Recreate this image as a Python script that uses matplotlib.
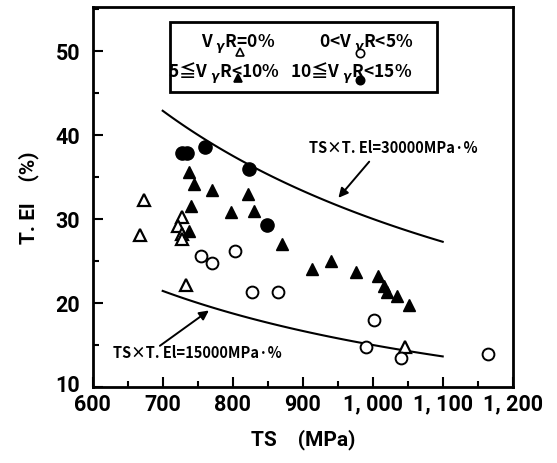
import numpy as np
import matplotlib
matplotlib.use('Agg')
import matplotlib.pyplot as plt
from matplotlib.patches import Rectangle
from matplotlib.transforms import ScaledTranslation
from matplotlib.ticker import MultipleLocator, FixedLocator, FixedFormatter

plt.rcParams['font.family'] = ['Roboto', 'DejaVu Sans']
plt.rcParams['font.weight'] = 'bold'
plt.rcParams['axes.labelweight'] = 'bold'
cjk = ['Noto Sans CJK JP', 'DejaVu Sans']

# V_gammaR = 0 %  (open triangles)
ts_0 = [674, 667, 727, 722, 727, 727, 733, 1046]
el_0 = [32.2, 28.1, 30.2, 29.2, 28.2, 27.6, 22.1, 14.7]

# 0 < V_gammaR < 5 %  (open circles)
ts_5 = [755, 770, 804, 827, 865, 1002, 990, 1040, 1165]
el_5 = [25.6, 24.8, 26.2, 21.3, 21.3, 18.0, 14.7, 13.4, 13.9]

# 5 <= V_gammaR < 10 %  (filled triangles)
ts_10 = [738, 745, 771, 822, 741, 797, 830, 738, 870, 913, 940, 976, 1008, 1016,
         1021, 1034, 1052]
el_10 = [35.6, 34.2, 33.4, 32.9, 31.5, 30.8, 30.9, 28.5, 27.0, 24.0, 25.0, 23.7,
         23.2, 22.0, 21.3, 20.8, 19.7]

# 10 <= V_gammaR < 15 %  (filled circles)
ts_15 = [728, 735, 760, 824, 849]
el_15 = [37.8, 37.8, 38.6, 35.9, 29.3]

# iso TS x T.El lines
ts_iso = np.linspace(700, 1100, 60)
products = [30000, 15000]

xticks = [600, 700, 800, 900, 1000, 1100, 1200]
xticklabels = ['600', '700', '800', '900', '1, 000', '1, 100', '1, 200']
yticks = [10, 20, 30, 40, 50]

fig = plt.figure(figsize=(5.57, 4.64), dpi=100)
ax = fig.add_axes([0.1664, 0.1638, 0.9205 - 0.1664, 0.9828 - 0.1638])

for p in products:
    ax.plot(ts_iso, p / ts_iso, color='black', lw=1.5)

ax.plot(ts_0, el_0, '^', mfc='white', mec='black', mew=1.6, ms=9, ls='none')
ax.plot(ts_5, el_5, 'o', mfc='white', mec='black', mew=1.4, ms=8.5, ls='none')
ax.plot(ts_10, el_10, '^', mfc='black', mec='black', ms=9, ls='none')
ax.plot(ts_15, el_15, 'o', mfc='black', mec='black', ms=9.5, ls='none')

ax.set_xlim(600, 1200)
ax.set_ylim(10, 55.2)
ax.xaxis.set_major_locator(FixedLocator(xticks))
ax.xaxis.set_major_formatter(FixedFormatter(xticklabels))
ax.xaxis.set_minor_locator(MultipleLocator(50))
ax.yaxis.set_major_locator(FixedLocator(yticks))
ax.yaxis.set_minor_locator(MultipleLocator(5))
ax.tick_params(which='both', direction='in', width=1.5, labelsize=15.5)
ax.tick_params(which='major', length=7)
ax.tick_params(which='minor', length=4)
ax.tick_params(axis='x', pad=4)
ax.tick_params(axis='y', pad=9)
for s in ax.spines.values():
    s.set_linewidth(2)

# lift the bottom "10" a little so it sits above "600"
lbl = ax.yaxis.get_major_ticks()[0].label1
lbl.set_transform(lbl.get_transform() + ScaledTranslation(0, 3 / 72, fig.dpi_scale_trans))

ax.set_xlabel('TS    (MPa)', fontsize=15, labelpad=10)
ax.set_ylabel('T. El    (%)', fontsize=15, labelpad=12)

# iso-line labels and arrows
ax.text(1030, 38.5, 'TS×T. El=30000MPa·%', fontsize=10.5, ha='center', va='center',
        family=cjk)
ax.annotate('', xy=(951, 32.5), xytext=(995, 36.8),
            arrowprops=dict(arrowstyle='-|>', color='black', lw=1.4,
                            shrinkA=0, shrinkB=0, mutation_scale=14))
ax.text(749, 14.2, 'TS×T. El=15000MPa·%', fontsize=10.5, ha='center', va='center',
        family=cjk)
ax.annotate('', xy=(766, 19.1), xytext=(696, 14.9),
            arrowprops=dict(arrowstyle='-|>', color='black', lw=1.4,
                            shrinkA=0, shrinkB=0, mutation_scale=14))

# legend box
ax.add_patch(Rectangle((0.184, 0.776), 0.636, 0.185, transform=ax.transAxes,
                       fill=True, fc='white', ec='black', lw=2, zorder=5))
leg_text = [(0.347, 0.905, 'V', 'R=0%', '^', 'white', 0.351, 0.882),
            (0.651, 0.905, '0<V', 'R<5%', 'o', 'white', 0.637, 0.880),
            (0.313, 0.829, '5≦V', 'R<10%', '^', 'black', 0.346, 0.814),
            (0.615, 0.829, '10≦V', 'R<15%', 'o', 'black', 0.637, 0.809)]
for x, y, a, b, m, fc, mx, my in leg_text:
    ax.text(x, y, a + ' $_{\\gamma}$' + b, transform=ax.transAxes, fontsize=12.5,
            ha='center', va='center', zorder=6, family=cjk)
    ax.plot([mx], [my], m, mfc=fc, mec='black', mew=1.2, ms=6,
            transform=ax.transAxes, zorder=7, clip_on=False)

fig.savefig('out.png', dpi=100)
